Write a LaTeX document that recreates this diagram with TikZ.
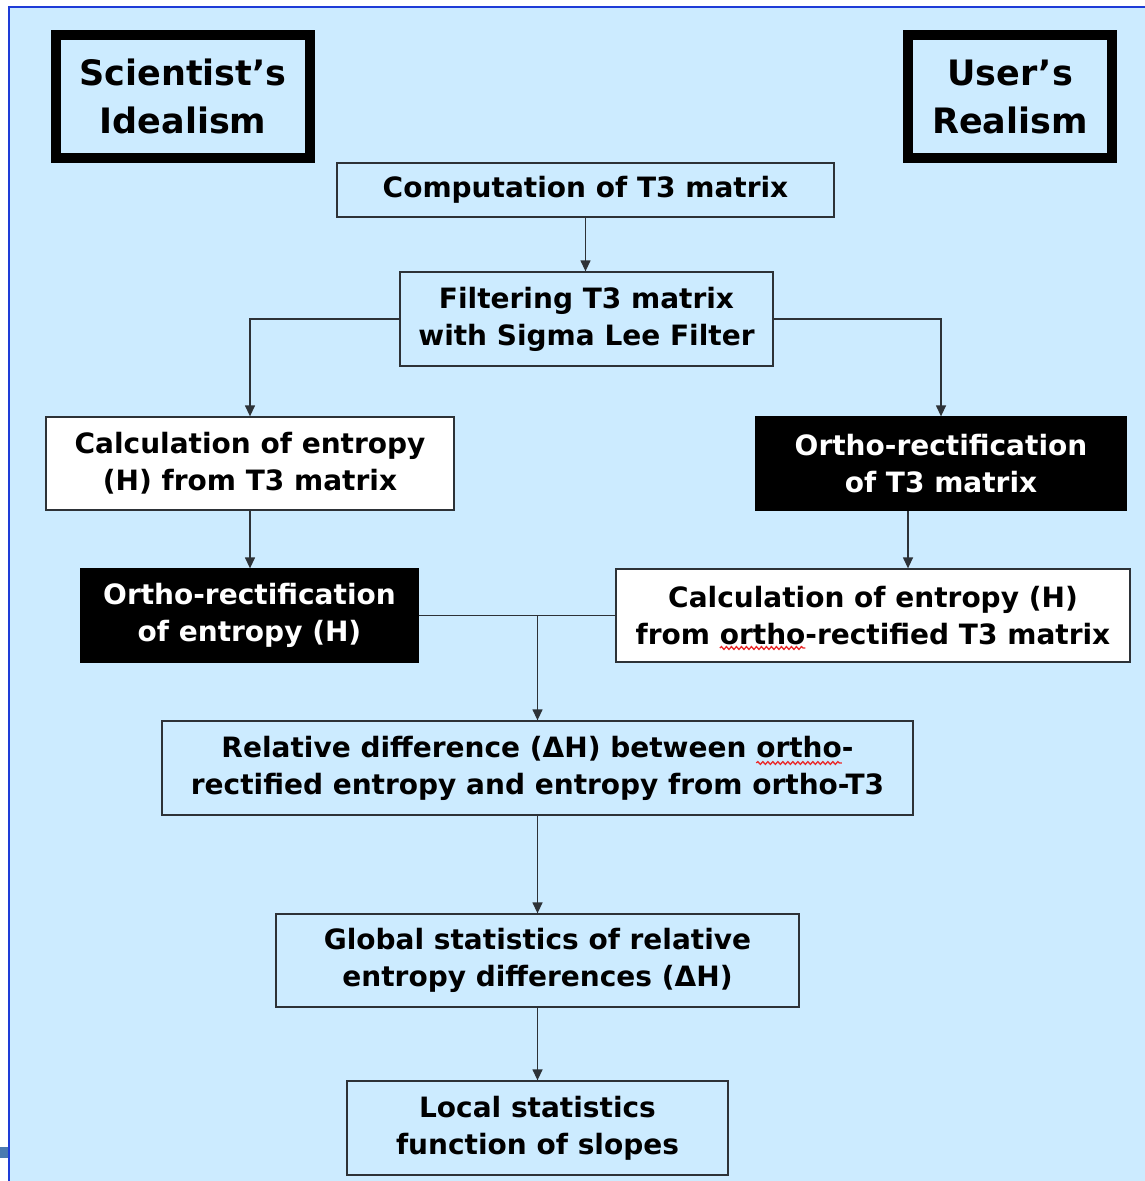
\documentclass[tikz,border=0pt]{standalone}
\usepackage{fontspec}
\setmainfont{DejaVu Sans}
\usetikzlibrary{arrows.meta,decorations.pathmorphing}
\definecolor{bgblue}{RGB}{204,235,255}
\definecolor{frameblue}{RGB}{30,60,215}
\definecolor{edgegray}{RGB}{45,50,55}
\definecolor{steelmark}{RGB}{74,122,176}
\definecolor{spellred}{RGB}{235,40,40}
\newcommand\boxfont{\fontsize{28}{37}\selectfont\bfseries}
\newlength\lineA \newlength\preA \newlength\wordA
\newlength\lineB \newlength\preB
\begin{document}
\settowidth\lineA{\boxfont from ortho-rectified T3 matrix}%
\settowidth\preA{\boxfont from }%
\settowidth\wordA{\boxfont ortho}%
\settowidth\lineB{\boxfont Relative difference (ΔH) between ortho-}%
\settowidth\preB{\boxfont Relative difference (ΔH) between }%
\pgfmathsetmacro\waveAx{873-0.5*\lineA+\preA}%
\pgfmathsetmacro\waveBx{537.5-0.5*\lineB+\preB}%
\pgfmathsetmacro\waveW{\wordA}%
\begin{tikzpicture}[x=1pt,y=-1pt,
  box/.style={draw=edgegray, line width=1.3pt, fill=bgblue, inner sep=0pt, align=center,
    font=\boxfont},
  wbox/.style={box, fill=white},
  bbox/.style={box, fill=black, draw=black, text=white},
  titlebox/.style={draw=black, line width=10pt, inner sep=0pt, align=center,
    font=\fontsize{35}{48}\selectfont\bfseries},
  arr/.style={draw=edgegray, line width=1.3pt, -{Triangle[width=10pt,length=11pt]}},
  plain/.style={draw=edgegray, line width=1.3pt},
  spellwave/.style={draw=spellred, line width=1.3pt, decorate,
    decoration={snake, segment length=5pt, amplitude=1.4pt}}]
\useasboundingbox (0,0) rectangle (1145,1181);
\fill[white] (0,0) rectangle (1145,1181);
\fill[bgblue] (9,7) rectangle (1145,1181);
\draw[frameblue, line width=2.5pt] (9,1181) -- (9,7) -- (1145,7);
\fill[steelmark] (0,1147) rectangle (8,1158);

\node[titlebox, minimum width=254pt, minimum height=123pt] (sci) at (183,96.5) {Scientist’s\\Idealism};
\node[titlebox, minimum width=204pt, minimum height=123pt] (usr) at (1010,96.5) {User’s\\Realism};

\node[box, minimum width=497pt, minimum height=54pt] (comp) at (585.5,190) {Computation of T3 matrix};
\node[box, minimum width=373pt, minimum height=94pt] (filt) at (586.5,319) {Filtering T3 matrix\\with Sigma Lee Filter};
\node[wbox, minimum width=408pt, minimum height=93pt] (lcalc) at (250,463.5) {Calculation of entropy\\(H) from T3 matrix};
\node[bbox, minimum width=370pt, minimum height=93pt] (rorth) at (941,463.5) {Ortho-rectification\\of T3 matrix};
\node[bbox, minimum width=337pt, minimum height=93pt] (lorth) at (249.5,615.5) {Ortho-rectification\\of entropy (H)};
\node[wbox, minimum width=514pt, minimum height=93pt] (rcalc) at (873,615.5) {Calculation of entropy (H)\\from ortho-rectified T3 matrix};
\node[box, minimum width=751pt, minimum height=94pt] (rel) at (537.5,768) {Relative difference (ΔH) between ortho-\\rectified entropy and entropy from ortho-T3};
\node[box, minimum width=523pt, minimum height=93pt] (glob) at (537.5,960.5) {Global statistics of relative\\entropy differences (ΔH)};
\node[box, minimum width=381pt, minimum height=94pt] (loc) at (537.5,1128) {Local statistics\\function of slopes};

\coordinate (waveA) at (\waveAx,648);
\coordinate (waveB) at (\waveBx,763);
\draw[spellwave] (waveA) -- ++(\waveW,0);
\draw[spellwave] (waveB) -- ++(\waveW,0);

\draw[arr] (comp.south) -- (comp.south |- filt.north);
\draw[arr] (filt.west) -| (lcalc.north);
\draw[arr] (filt.east) -| (rorth.north);
\draw[arr] (lcalc.south) -- (lcalc.south |- lorth.north);
\coordinate (rdrop) at ([xshift=-33pt]rorth.south);
\draw[arr] (rdrop) -- (rdrop |- rcalc.north);
\draw[plain] (lorth.east) -- (rcalc.west);
\coordinate (join) at (lorth.east -| rel.north);
\draw[arr] (join) -- (rel.north);
\draw[arr] (rel.south) -- (glob.north);
\draw[arr] (glob.south) -- (loc.north);
\end{tikzpicture}
\end{document}
